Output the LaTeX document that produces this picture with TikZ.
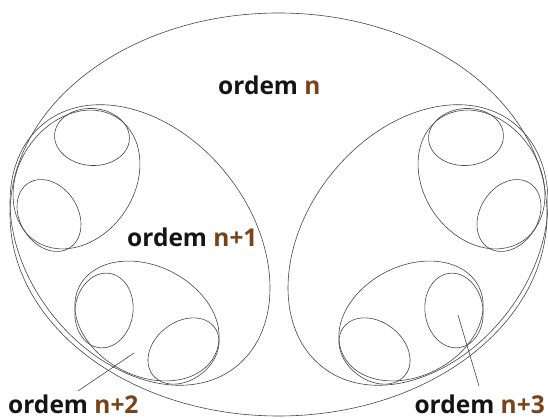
\documentclass[tikz,border=0pt]{standalone}
\usepackage{fontspec}
\setmainfont{Open Sans}
\definecolor{ordbrown}{RGB}{122,66,24}
\definecolor{ordtext}{RGB}{20,20,20}
\definecolor{linegray}{RGB}{70,70,70}
\tikzset{
  ring/.style={draw=linegray, line width=0.6pt},
  leader/.style={draw=linegray, line width=0.6pt},
  ordlabel/.style={inner sep=0pt, font=\fontsize{24.5}{28}\selectfont\bfseries, text=ordtext}
}
\newcommand{\halfset}{%
  % level n+1 (left)
  \draw[ring, rotate around={-52:(140,174)}] (140,174) ellipse (155 and 112);
  % level n+2, upper-left
  \draw[ring, rotate around={56:(76.5,239.5)}] (76.5,239.5) ellipse (74 and 58);
  \draw[ring, rotate around={-4:(92,282)}] (92,282) ellipse (37.5 and 28.5);
  \draw[ring, rotate around={-57.6:(49,203.5)}] (49,203.5) ellipse (38.4 and 29);
  % level n+2, lower
  \draw[ring, rotate around={-27:(147,98)}] (147,98) ellipse (76 and 55);
  \draw[ring, rotate around={82:(104,108.5)}] (104,108.5) ellipse (37.5 and 29);
  \draw[ring, rotate around={38:(183.5,68)}] (183.5,68) ellipse (39 and 29);
}
\begin{document}
\begin{tikzpicture}[x=1pt,y=1pt]
\useasboundingbox (0,0) rectangle (548,419);
% level n
\draw[ring] (278.5,204.5) ellipse (268.5 and 201.5);
\halfset
\begin{scope}[shift={(558,0)}, xscale=-1]
\halfset
\end{scope}
% labels
\node[ordlabel, anchor=base west] (ln) at (218,324) {ordem \textcolor{ordbrown}{n}};
\node[ordlabel, anchor=base west] (ln1) at (127,172) {ordem \textcolor{ordbrown}{n+1}};
\node[ordlabel, anchor=base west] (ln2) at (8,5) {ordem \textcolor{ordbrown}{n+2}};
\node[ordlabel, anchor=base east] (ln3) at (545,5) {ordem \textcolor{ordbrown}{n+3}};
\coordinate (p2a) at (78,28);
\coordinate (p2b) at (134,66);
\coordinate (p3a) at (479,33);
\coordinate (p3b) at (458,104);
\draw[leader] (p2a) -- (p2b);
\draw[leader] (p3a) -- (p3b);
\end{tikzpicture}
\end{document}
